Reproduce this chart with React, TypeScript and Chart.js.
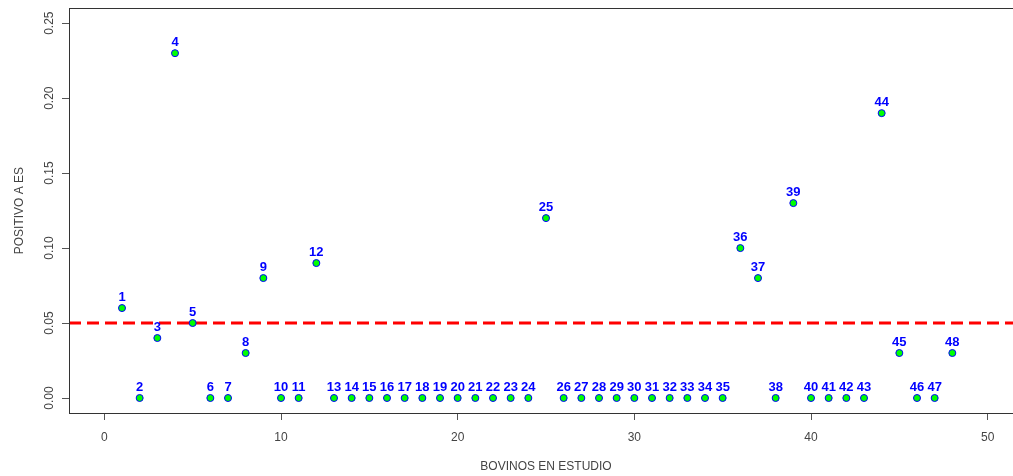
import React, { useEffect, useRef } from "react";
import { Chart, registerables } from "chart.js";

Chart.register(...registerables);

const bovinos = [
  1, 2, 3, 4, 5, 6, 7, 8, 9, 10, 11, 12, 13, 14, 15, 16, 17, 18, 19, 20, 21, 22, 23, 24,
  25, 26, 27, 28, 29, 30, 31, 32, 33, 34, 35, 36, 37, 38, 39, 40, 41, 42, 43, 44, 45, 46, 47, 48,
];
const positivoES = [
  0.06, 0, 0.04, 0.23, 0.05, 0, 0, 0.03, 0.08, 0, 0, 0.09, 0, 0, 0, 0, 0, 0, 0, 0, 0, 0, 0, 0,
  0.12, 0, 0, 0, 0, 0, 0, 0, 0, 0, 0, 0.1, 0.08, 0, 0.13, 0, 0, 0, 0, 0.19, 0.03, 0, 0, 0.03,
];
const pointLabels = bovinos.map((b) => String(b));
const threshold = 0.05;
const xTicks = [0, 10, 20, 30, 40, 50];
const yTicks = [0, 0.05, 0.1, 0.15, 0.2, 0.25];
const xRange = [-2, 52];
const yRange = [-0.01, 0.26];

const FONT = "'Liberation Sans', Arial, sans-serif";

export default function App() {
  const ref = useRef<HTMLCanvasElement | null>(null);
  useEffect(() => {
    if (!ref.current) return;
    const labelPlugin = {
      id: "labelsAndBox",
      afterDatasetsDraw(chart: any) {
        const ctx = chart.ctx;
        const meta = chart.getDatasetMeta(0);
        ctx.save();
        ctx.font = `bold 13px ${FONT}`;
        ctx.fillStyle = "#0000FF";
        ctx.textAlign = "center";
        ctx.textBaseline = "middle";
        meta.data.forEach((pt: any, i: number) => {
          ctx.fillText(pointLabels[i], pt.x, pt.y - 11);
        });
        ctx.restore();
      },
      afterDraw(chart: any) {
        const { ctx, chartArea } = chart;
        ctx.save();
        ctx.strokeStyle = "#333";
        ctx.lineWidth = 1;
        ctx.strokeRect(
          Math.round(chartArea.left) + 0.5,
          Math.round(chartArea.top) + 0.5,
          Math.round(chartArea.right - chartArea.left),
          Math.round(chartArea.bottom - chartArea.top)
        );
        ctx.restore();
      },
    };
    const chart = new Chart(ref.current, {
      type: "scatter",
      data: {
        datasets: [
          {
            data: bovinos.map((b, i) => ({ x: b, y: positivoES[i] })),
            backgroundColor: "#00FF00",
            borderColor: "#0000FF",
            borderWidth: 1,
            pointRadius: 3.5,
            order: 1,
          },
          {
            type: "line",
            data: xRange.map((x) => ({ x, y: threshold })),
            borderColor: "#FF0000",
            borderWidth: 3,
            borderDash: [12, 6],
            pointRadius: 0,
            showLine: true,
            fill: false,
            order: 2,
          } as any,
        ],
      },
      options: {
        responsive: false,
        animation: false,
        events: [],
        layout: { padding: { top: 8, right: 17, left: 0, bottom: 0 } },
        plugins: { legend: { display: false }, tooltip: { enabled: false } },
        scales: {
          x: {
            type: "linear",
            min: xRange[0],
            max: xRange[1],
            afterBuildTicks: (s: any) => {
              s.ticks = xTicks.map((v) => ({ value: v }));
            },
            afterFit: (s: any) => {
              s.height = 63;
            },
            grid: { drawOnChartArea: false, drawTicks: true, tickLength: 7, color: "#555" },
            border: { display: false },
            ticks: {
              autoSkip: false,
              maxRotation: 0,
              minRotation: 0,
              padding: 10,
              color: "#444",
              font: { family: FONT, size: 12 },
              callback: (v: any) => String(v),
            },
            title: {
              display: true,
              text: "BOVINOS EN ESTUDIO",
              color: "#444",
              font: { family: FONT, size: 12 },
              padding: { top: 0, bottom: 2 },
            },
          },
          y: {
            type: "linear",
            min: yRange[0],
            max: yRange[1],
            afterBuildTicks: (s: any) => {
              s.ticks = yTicks.map((v) => ({ value: v }));
            },
            afterFit: (s: any) => {
              s.width = 69;
            },
            grid: { drawOnChartArea: false, drawTicks: true, tickLength: 7, color: "#555" },
            border: { display: false },
            ticks: {
              autoSkip: false,
              minRotation: 90,
              maxRotation: 90,
              crossAlign: "center",
              padding: 1,
              color: "#444",
              font: { family: FONT, size: 12 },
              callback: (v: any) => Number(v).toFixed(2),
            },
            title: {
              display: true,
              text: "POSITIVO A ES",
              color: "#444",
              font: { family: FONT, size: 12 },
              padding: { top: 12, bottom: 0 },
            },
          },
        },
      },
      plugins: [labelPlugin],
    });
    return () => chart.destroy();
  }, []);
  return (
    <div
      style={{
        position: "absolute",
        left: 0,
        top: 0,
        width: 1013,
        height: 476,
        overflow: "hidden",
        background: "#fff",
      }}
    >
      <canvas ref={ref} width={1040} height={476} style={{ display: "block" }} />
    </div>
  );
}
